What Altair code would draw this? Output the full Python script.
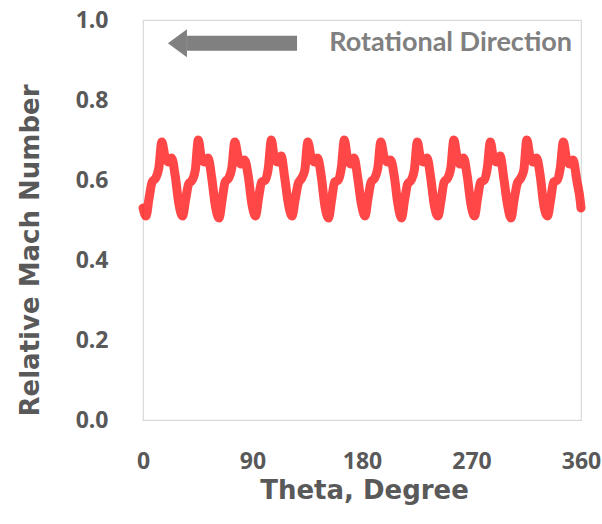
import altair as alt
import pandas as pd

# ---- data ----
theta = [
    0,
    2.5, 5, 7.5, 10.5, 13, 15.5, 18, 20.5, 23.5, 26.5, 29.5,
    32.5, 35, 37.5, 40.5, 43, 45.5, 48, 50.5, 53.5, 56.5, 59.5,
    62.5, 65, 67.5, 70.5, 73, 75.5, 78, 80.5, 83.5, 86.5, 89.5,
    92.5, 95, 97.5, 100.5, 103, 105.5, 108, 110.5, 113.5, 116.5, 119.5,
    122.5, 125, 127.5, 130.5, 133, 135.5, 138, 140.5, 143.5, 146.5, 149.5,
    152.5, 155, 157.5, 160.5, 163, 165.5, 168, 170.5, 173.5, 176.5, 179.5,
    182.5, 185, 187.5, 190.5, 193, 195.5, 198, 200.5, 203.5, 206.5, 209.5,
    212.5, 215, 217.5, 220.5, 223, 225.5, 228, 230.5, 233.5, 236.5, 239.5,
    242.5, 245, 247.5, 250.5, 253, 255.5, 258, 260.5, 263.5, 266.5, 269.5,
    272.5, 275, 277.5, 280.5, 283, 285.5, 288, 290.5, 293.5, 296.5, 299.5,
    302.5, 305, 307.5, 310.5, 313, 315.5, 318, 320.5, 323.5, 326.5, 329.5,
    332.5, 335, 337.5, 340.5, 343, 345.5, 348, 350.5, 353.5, 356.5, 359.5,
    360,
]
mach = [
    0.53,
    0.51, 0.555, 0.595, 0.605, 0.63, 0.695, 0.66, 0.645, 0.655, 0.61, 0.54,
    0.51, 0.55, 0.59, 0.600, 0.625, 0.700, 0.655, 0.645, 0.655, 0.605, 0.535,
    0.505, 0.55, 0.595, 0.605, 0.63, 0.695, 0.66, 0.64, 0.65, 0.61, 0.54,
    0.51, 0.555, 0.595, 0.600, 0.63, 0.700, 0.655, 0.645, 0.66, 0.605, 0.54,
    0.51, 0.55, 0.59, 0.605, 0.625, 0.695, 0.66, 0.645, 0.655, 0.61, 0.535,
    0.505, 0.55, 0.595, 0.600, 0.63, 0.700, 0.655, 0.64, 0.655, 0.605, 0.54,
    0.51, 0.555, 0.595, 0.605, 0.63, 0.695, 0.66, 0.645, 0.65, 0.61, 0.54,
    0.505, 0.55, 0.59, 0.600, 0.625, 0.695, 0.655, 0.645, 0.655, 0.605, 0.535,
    0.51, 0.55, 0.595, 0.605, 0.63, 0.700, 0.66, 0.64, 0.655, 0.61, 0.54,
    0.51, 0.555, 0.595, 0.600, 0.63, 0.695, 0.655, 0.645, 0.66, 0.605, 0.54,
    0.505, 0.55, 0.59, 0.605, 0.625, 0.700, 0.66, 0.645, 0.655, 0.61, 0.535,
    0.51, 0.55, 0.595, 0.600, 0.63, 0.695, 0.655, 0.64, 0.65, 0.60, 0.545,
    0.53,
]

x_ticks = [0, 90, 180, 270, 360]
y_ticks = [0.0, 0.2, 0.4, 0.6, 0.8, 1.0]

# annotation (data coordinates)
arrow_start = [36.2]
arrow_end = [126.6]
arrow_head = [28.3]
arrow_y = [0.942]
note_text = ["Rotational Direction"]
note_x = [352.6]

GRAY = "#595959"
FONT = "Open Sans"
TFONT = "DejaVu Sans"

df = pd.DataFrame({"theta": theta, "mach": mach})
ann = pd.DataFrame({
    "x1": arrow_start, "x2": arrow_end, "xh": arrow_head, "y": arrow_y,
    "label": note_text, "xt": note_x,
})

xscale = alt.Scale(domain=[0, 360], nice=False, zero=False)
yscale = alt.Scale(domain=[0, 1], nice=False)

line = alt.Chart(df).mark_line(
    color="#ff0000", opacity=0.72, strokeWidth=9,
    strokeJoin="round", strokeCap="round", interpolate="monotone",
).encode(
    x=alt.X("theta:Q", scale=xscale, axis=alt.Axis(
        values=x_ticks, title="Theta, Degree", grid=False, ticks=False,
        tickSize=0, domain=False, labelFont=FONT, labelFontSize=23,
        labelFontWeight="bold", labelColor=GRAY, labelPadding=48,
        labelBaseline="alphabetic", labelFlush=False,
        titleFont=TFONT, titleFontSize=26, titleFontWeight="bold",
        titleColor=GRAY, titleX=221, titleY=78, titleBaseline="alphabetic",
        titleAlign="center")),
    y=alt.Y("mach:Q", scale=yscale, axis=alt.Axis(
        values=y_ticks, format=".1f", title="Relative Mach Number",
        grid=False, ticks=False, tickSize=0, domain=False,
        labelFont=FONT, labelFontSize=23, labelFontWeight="bold",
        labelColor=GRAY, labelPadding=35, labelFlush=False,
        titleFont=TFONT, titleFontSize=26, titleFontWeight="bold",
        titleColor=GRAY, titleAngle=270, titleX=-113, titleY=230,
        titleBaseline="middle", titleAlign="center")),
)

shaft = alt.Chart(ann).mark_rule(color="#808080", strokeWidth=15, strokeCap="butt").encode(
    x=alt.X("x1:Q", scale=xscale), x2="x2:Q",
    y=alt.Y("y:Q", scale=yscale),
)
head = alt.Chart(ann).mark_point(
    shape="M -0.68 0 L 0.68 -1 L 0.68 1 Z", filled=True, opacity=1,
    color="#808080", size=784, strokeWidth=0,
).encode(
    x=alt.X("xh:Q", scale=xscale),
    y=alt.Y("y:Q", scale=yscale),
)
text = alt.Chart(ann).mark_text(
    align="right", baseline="middle", font="Lato",
    fontSize=27, fontWeight="bold", color="#808080",
).encode(
    x=alt.X("xt:Q", scale=xscale),
    y=alt.Y("y:Q", scale=yscale),
    text="label:N",
)

chart = alt.layer(line, shaft, head, text).properties(
    width=438, height=400,
    autosize=alt.AutoSizeParams(type="none"),
    padding={"left": 143, "top": 20, "right": 21, "bottom": 104},
    background="white",
).configure_view(stroke="#d9d9d9", strokeWidth=1.2)

chart.save("out.html", embed_options={"renderer": "svg", "actions": False})
